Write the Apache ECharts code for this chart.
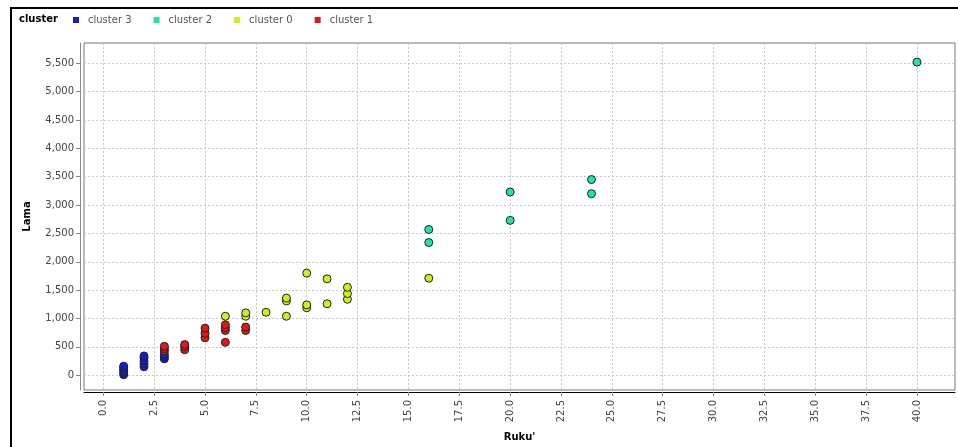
<!DOCTYPE html>
<html>
<head>
<meta charset="utf-8">
<script src="https://cdn.jsdelivr.net/npm/echarts@6/dist/echarts.min.js"></script>
<style>
html,body{margin:0;padding:0;background:#fff;}
#chart{width:958px;height:447px;}
</style>
</head>
<body>
<div id="chart"></div>
<script>
// ---- data ----
const seriesNames = ['cluster 3', 'cluster 2', 'cluster 0', 'cluster 1'];

const cluster3X = [1, 1, 1, 1, 1, 2, 2, 2, 2, 2, 3, 3, 3];
const cluster3Y = [10, 50, 90, 130, 160, 150, 200, 250, 300, 340, 290, 330, 370];

const cluster2X = [16, 16, 20, 20, 24, 24, 40];
const cluster2Y = [2340, 2570, 2730, 3230, 3200, 3450, 5520];

const cluster0X = [6, 7, 7, 8, 9, 9, 9, 10, 10, 10, 11, 11, 12, 12, 12, 16];
const cluster0Y = [1040, 1040, 1100, 1110, 1040, 1310, 1360, 1190, 1240, 1800, 1260, 1700, 1340, 1440, 1550, 1710];

const cluster1X = [3, 3, 3, 4, 4, 4, 5, 5, 5, 6, 6, 6, 6, 7, 7];
const cluster1Y = [430, 470, 510, 450, 500, 540, 660, 740, 830, 580, 790, 840, 890, 790, 850];

const xTicks = [0, 2.5, 5, 7.5, 10, 12.5, 15, 17.5, 20, 22.5, 25, 27.5, 30, 32.5, 35, 37.5, 40];
const yTicks = [0, 500, 1000, 1500, 2000, 2500, 3000, 3500, 4000, 4500, 5000, 5500];

const colors = ['#1020d8', '#1ee6a0', '#c8f020', '#e01818'];

function pairs(xs, ys) { return xs.map((x, i) => [x, ys[i]]); }
const seriesData = [
  pairs(cluster3X, cluster3Y),
  pairs(cluster2X, cluster2Y),
  pairs(cluster0X, cluster0Y),
  pairs(cluster1X, cluster1Y)
];

const font = 'DejaVu Sans';
const chart = echarts.init(document.getElementById('chart'), null, {renderer: 'canvas'});
chart.setOption({
  animation: false,
  backgroundColor: '#fff',
  color: colors,
  graphic: [{
    type: 'rect',
    shape: {x: 11, y: 8, width: 1000, height: 500},
    style: {fill: 'none', stroke: '#000', lineWidth: 2},
    silent: true, z: -10
  }],
  title: {
    text: 'cluster', left: 14, top: 9,
    textStyle: {fontFamily: font, fontSize: 10, fontWeight: 'bold', color: '#000'}
  },
  legend: {
    data: seriesNames, left: 68, top: 10, icon: 'rect', itemWidth: 6, itemHeight: 6,
    itemGap: 22,
    itemStyle: {borderWidth: 0},
    textStyle: {fontFamily: font, fontSize: 10, color: '#555', padding: [0, 0, 0, 4]}
  },
  grid: {
    left: 84, right: 3, top: 43, bottom: 51,
    show: true, borderColor: '#777', borderWidth: 1, backgroundColor: '#fff'
  },
  xAxis: {
    type: 'value', min: -0.95, max: 41.87, offset: 2,
    name: "Ruku'", nameLocation: 'middle', nameGap: 40,
    nameTextStyle: {fontFamily: font, fontSize: 10, fontWeight: 'bold', color: '#000'},
    axisLine: {show: true, onZero: false, lineStyle: {color: '#000', width: 1}},
    axisTick: {show: true, customValues: xTicks, length: 4, lineStyle: {color: '#888'}},
    axisLabel: {customValues: xTicks, rotate: 90, margin: 8, fontFamily: font, fontSize: 10, color: '#444',
      formatter: v => Number(v).toFixed(1)},
    splitLine: {show: true, lineStyle: {color: '#c8c8c8', type: [2, 2], width: 1}}
  },
  yAxis: {
    type: 'value', min: -260, max: 5857, offset: 4,
    name: 'Lama', nameLocation: 'middle', nameGap: 48,
    nameTextStyle: {fontFamily: font, fontSize: 10, fontWeight: 'bold', color: '#000'},
    axisLine: {show: true, onZero: false, lineStyle: {color: '#888', width: 1}},
    axisTick: {show: true, customValues: yTicks, length: 4, lineStyle: {color: '#888'}},
    axisLabel: {customValues: yTicks, margin: 6, fontFamily: font, fontSize: 10, color: '#444',
      formatter: v => Number(v).toLocaleString('en-US')},
    splitLine: {show: true, lineStyle: {color: '#c8c8c8', type: [2, 2], width: 1}}
  },
  series: seriesNames.map((n, i) => ({
    name: n, type: 'scatter', symbol: 'circle', symbolSize: 8,
    data: seriesData[i],
    itemStyle: {color: colors[i], borderColor: '#222', borderWidth: 1, opacity: 1}
  }))
});
</script>
</body>
</html>
